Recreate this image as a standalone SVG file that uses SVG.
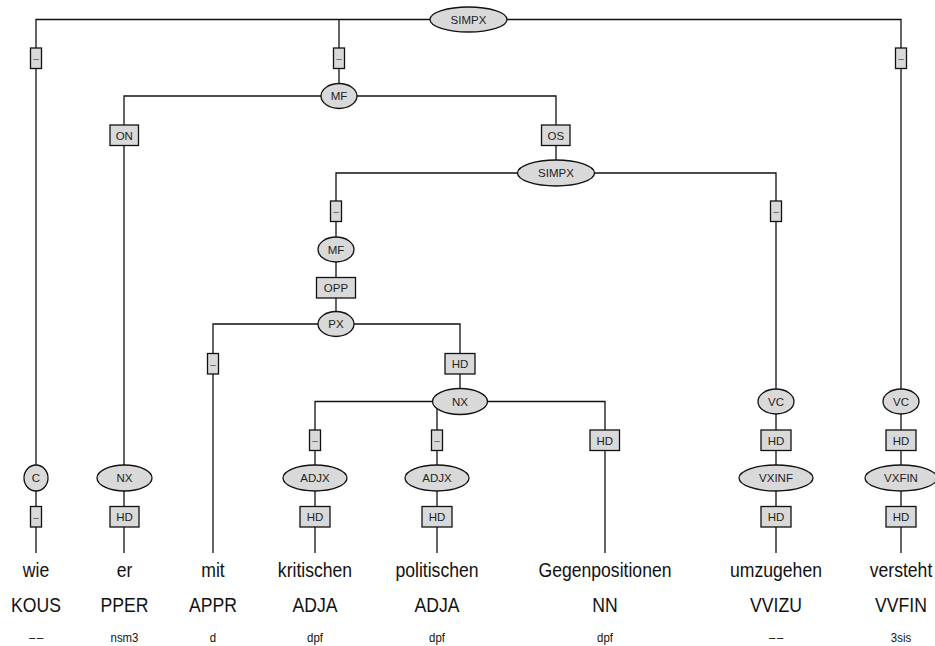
<svg xmlns="http://www.w3.org/2000/svg" width="935" height="646" viewBox="0 0 935 646">
<style>
  .e { fill: #d9d9d9; stroke: #111; stroke-width: 1.3; }
  .b { fill: #d9d9d9; stroke: #111; stroke-width: 1.3; }
  .l { font-family: "Liberation Sans", Arial, sans-serif; font-size: 11.5px; fill: #222; text-anchor: middle; }
  .d { font-family: "Liberation Sans", Arial, sans-serif; font-size: 10px; fill: #555; text-anchor: middle; }
  .w { font-family: "Liberation Sans", Arial, sans-serif; font-size: 20px; fill: #111; text-anchor: middle; }
  .m { font-family: "Liberation Sans", Arial, sans-serif; font-size: 13px; fill: #111; text-anchor: middle; }
  .dd { letter-spacing: 2px; }
  #connectors path { fill: none; stroke: #111; stroke-width: 1.3; }
</style>
<rect width="935" height="646" fill="#fff"/>
<g id="connectors">
  <path d="M36 553 V19.5 H901 V553"/>
  <path d="M339 19.5 V96"/>
  <path d="M124 553 V96 H556 V173"/>
  <path d="M336 250 V173 H776 V553"/>
  <path d="M336 250 V324"/>
  <path d="M213 553 V324 H460 V401.5"/>
  <path d="M315 553 V401.5 H605 V553"/>
  <path d="M437 401.5 V553"/>
</g>
<g id="n_simpx1"><ellipse class="e" cx="468.5" cy="19.5" rx="38.5" ry="12.5"/><text class="l" x="468.5" y="23.5">SIMPX</text></g>
<g id="e_top1"><rect class="b" x="30.5" y="48" width="11" height="20.5"/><text class="d" x="36" y="62">–</text></g>
<g id="e_top2"><rect class="b" x="333.5" y="48" width="11" height="20.5"/><text class="d" x="339" y="62">–</text></g>
<g id="e_top3"><rect class="b" x="895.5" y="48" width="11" height="20.5"/><text class="d" x="901" y="62">–</text></g>
<g id="n_mf1"><ellipse class="e" cx="339" cy="96" rx="18" ry="12.5"/><text class="l" x="339" y="100">MF</text></g>
<g id="e_on"><rect class="b" x="110" y="125" width="28.5" height="20.5"/><text class="l" x="124.25" y="139.5">ON</text></g>
<g id="e_os"><rect class="b" x="541.5" y="125" width="28.5" height="20.5"/><text class="l" x="555.75" y="139.5">OS</text></g>
<g id="n_simpx2"><ellipse class="e" cx="556" cy="173" rx="38.5" ry="13"/><text class="l" x="556" y="177">SIMPX</text></g>
<g id="e_mf2"><rect class="b" x="330.5" y="201" width="11" height="20.5"/><text class="d" x="336" y="215">–</text></g>
<g id="e_vc1"><rect class="b" x="770.5" y="201" width="11" height="20.5"/><text class="d" x="776" y="215">–</text></g>
<g id="n_mf2"><ellipse class="e" cx="336" cy="249.5" rx="18" ry="12.5"/><text class="l" x="336" y="253.5">MF</text></g>
<g id="e_opp"><rect class="b" x="316.5" y="277.5" width="39" height="20.5"/><text class="l" x="336" y="292">OPP</text></g>
<g id="n_px"><ellipse class="e" cx="336" cy="324" rx="18" ry="12.5"/><text class="l" x="336" y="328">PX</text></g>
<g id="e_mit"><rect class="b" x="207.5" y="353.5" width="11" height="20.5"/><text class="d" x="213" y="367.5">–</text></g>
<g id="e_hd_nx"><rect class="b" x="445" y="353.5" width="30" height="20.5"/><text class="l" x="460" y="368">HD</text></g>
<g id="n_nx"><ellipse class="e" cx="460" cy="401.5" rx="27.5" ry="13"/><text class="l" x="460" y="405.5">NX</text></g>
<g id="e_adjx1"><rect class="b" x="309.5" y="430" width="11" height="20.5"/><text class="d" x="315" y="444">–</text></g>
<g id="e_adjx2"><rect class="b" x="431.5" y="430" width="11" height="20.5"/><text class="d" x="437" y="444">–</text></g>
<g id="e_hd_nn"><rect class="b" x="590" y="430" width="29.5" height="20.5"/><text class="l" x="604.75" y="444.5">HD</text></g>
<g id="n_vc1"><ellipse class="e" cx="776" cy="401.5" rx="18" ry="12.5"/><text class="l" x="776" y="405.5">VC</text></g>
<g id="e_hd_vc1"><rect class="b" x="761" y="430" width="30" height="20.5"/><text class="l" x="776" y="444.5">HD</text></g>
<g id="n_vc2"><ellipse class="e" cx="901" cy="401.5" rx="18" ry="12.5"/><text class="l" x="901" y="405.5">VC</text></g>
<g id="e_hd_vc2"><rect class="b" x="886" y="430" width="30" height="20.5"/><text class="l" x="901" y="444.5">HD</text></g>
<g id="n_c"><ellipse class="e" cx="36" cy="478" rx="12" ry="13"/><text class="l" x="36" y="482">C</text></g>
<g id="e_wie"><rect class="b" x="30.5" y="506.5" width="11" height="20.5"/><text class="d" x="36" y="520.5">–</text></g>
<g id="n_nx2"><ellipse class="e" cx="124.5" cy="478" rx="27.5" ry="13"/><text class="l" x="124.5" y="482">NX</text></g>
<g id="e_er"><rect class="b" x="110" y="506.5" width="29" height="20.5"/><text class="l" x="124.5" y="521">HD</text></g>
<g id="n_adjx1"><ellipse class="e" cx="315" cy="478" rx="32" ry="13"/><text class="l" x="315" y="482">ADJX</text></g>
<g id="e_krit"><rect class="b" x="300" y="506.5" width="30" height="20.5"/><text class="l" x="315" y="521">HD</text></g>
<g id="n_adjx2"><ellipse class="e" cx="437" cy="478" rx="32" ry="13"/><text class="l" x="437" y="482">ADJX</text></g>
<g id="e_pol"><rect class="b" x="422" y="506.5" width="30" height="20.5"/><text class="l" x="437" y="521">HD</text></g>
<g id="n_vxinf"><ellipse class="e" cx="776" cy="478" rx="37" ry="13"/><text class="l" x="776" y="482">VXINF</text></g>
<g id="e_umz"><rect class="b" x="761" y="506.5" width="30" height="20.5"/><text class="l" x="776" y="521">HD</text></g>
<g id="n_vxfin"><ellipse class="e" cx="901" cy="478" rx="36" ry="13"/><text class="l" x="901" y="482">VXFIN</text></g>
<g id="e_vers"><rect class="b" x="886" y="506.5" width="30" height="20.5"/><text class="l" x="901" y="521">HD</text></g>
<g id="tokens">
  <g id="t_wie"><text class="w" transform="translate(36,577) scale(0.88,1)">wie</text><text class="w" transform="translate(36,612) scale(0.88,1)">KOUS</text><text class="m dd" transform="translate(37,642) scale(0.88,1)">––</text></g>
  <g id="t_er"><text class="w" transform="translate(124.5,577) scale(0.88,1)">er</text><text class="w" transform="translate(124.5,612) scale(0.88,1)">PPER</text><text class="m" transform="translate(124.5,642) scale(0.88,1)">nsm3</text></g>
  <g id="t_mit"><text class="w" transform="translate(213,577) scale(0.88,1)">mit</text><text class="w" transform="translate(213,612) scale(0.88,1)">APPR</text><text class="m" transform="translate(213,642) scale(0.88,1)">d</text></g>
  <g id="t_krit"><text class="w" transform="translate(315,577) scale(0.88,1)">kritischen</text><text class="w" transform="translate(315,612) scale(0.88,1)">ADJA</text><text class="m" transform="translate(315,642) scale(0.88,1)">dpf</text></g>
  <g id="t_pol"><text class="w" transform="translate(437,577) scale(0.88,1)">politischen</text><text class="w" transform="translate(437,612) scale(0.88,1)">ADJA</text><text class="m" transform="translate(437,642) scale(0.88,1)">dpf</text></g>
  <g id="t_gegen"><text class="w" transform="translate(605,577) scale(0.88,1)">Gegenpositionen</text><text class="w" transform="translate(605,612) scale(0.88,1)">NN</text><text class="m" transform="translate(605,642) scale(0.88,1)">dpf</text></g>
  <g id="t_umz"><text class="w" transform="translate(776,577) scale(0.88,1)">umzugehen</text><text class="w" transform="translate(776,612) scale(0.88,1)">VVIZU</text><text class="m dd" transform="translate(777,642) scale(0.88,1)">––</text></g>
  <g id="t_vers"><text class="w" transform="translate(901,577) scale(0.88,1)">versteht</text><text class="w" transform="translate(901,612) scale(0.88,1)">VVFIN</text><text class="m" transform="translate(901,642) scale(0.88,1)">3sis</text></g>
</g>
</svg>
